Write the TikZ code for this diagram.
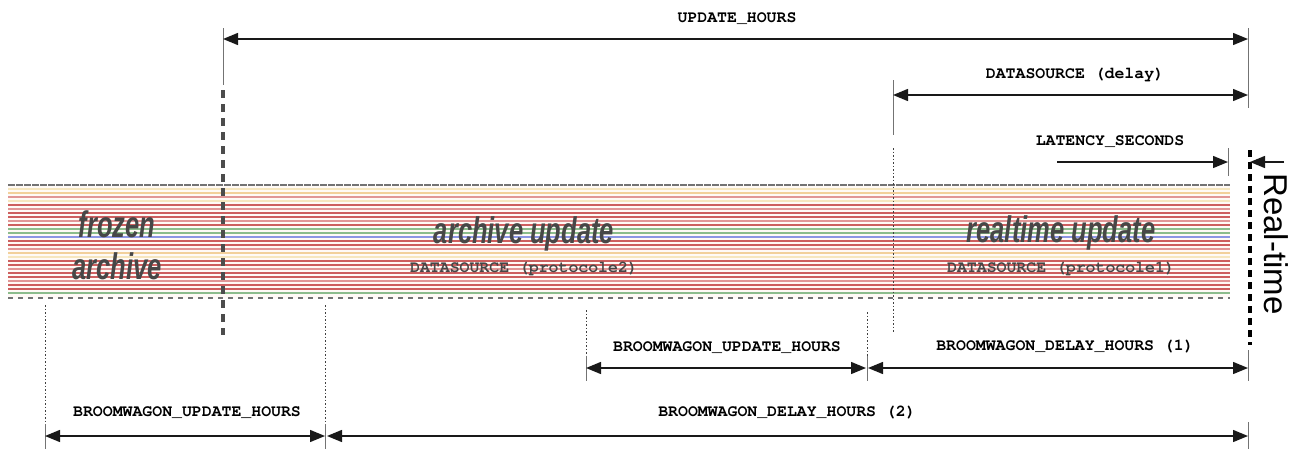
\documentclass[tikz,border=0pt]{standalone}
\usepackage[T1]{fontenc}
\usepackage{fontspec}
\setmainfont{Liberation Sans}
\newcommand\courb{\fontencoding{T1}\fontfamily{pcr}\fontseries{b}\fontshape{n}\selectfont}
\usetikzlibrary{arrows.meta}
\definecolor{sred}{RGB}{205,95,95}
\definecolor{sred2}{RGB}{225,150,150}
\definecolor{sorange}{RGB}{242,208,155}
\definecolor{syellow}{RGB}{246,230,190}
\definecolor{sgreen}{RGB}{140,188,140}
\definecolor{sblue}{RGB}{140,150,228}
\definecolor{bandbg}{RGB}{255,250,246}
\begin{document}
\begin{tikzpicture}[x=1pt,y=-1pt,
  dim/.style={line width=1.4pt, draw=black!90, {Triangle[length=15pt,width=12pt]}-{Triangle[length=15pt,width=12pt]}},
  onearrow/.style={line width=1.4pt, draw=black!90, -{Triangle[length=15pt,width=12pt]}},
  tickl/.style={draw=black!55, line width=0.7pt},
  dotv/.style={draw=black!75, line width=0.8pt, dash pattern=on 1.5pt off 2pt},
  rtline/.style={draw=black, line width=3.4pt, dash pattern=on 7pt off 5pt},
  arline/.style={draw=black!70, line width=3.2pt, dash pattern=on 8pt off 6pt},
  lbl/.style={font=\courb\fontsize{16.5}{16.5}\selectfont, text=black, inner sep=0pt, anchor=base},
  sub/.style={font=\courb\fontsize{16.5}{16.5}\selectfont, text=black!72, inner sep=0pt, anchor=base},
  big/.style={font=\bfseries\itshape\fontsize{37}{37}\selectfont, text=black!72, xscale=0.69, inner sep=0pt, anchor=base},
  stripe/.style={line width=1.2pt}]
\useasboundingbox (0,0) rectangle (1296,450);
% ---- band ----
\fill[bandbg] (8,185) rectangle (1230,298);
\foreach \yy/\cc in {189/syellow,193/sorange,197/sred2,201/syellow,205/sred,209/sred2,213/sred,217/sred,221/sred2,225/sred,229/sgreen,233/sgreen,237/sblue,241/sred,245/sred,249/sred2,253/sorange,257/syellow,261/sred,265/sred,269/sred2,273/sred,277/sred,281/sred2,285/sred,289/sred,293/sgreen}
  \draw[stripe,draw=\cc] (8,\yy) -- (1230,\yy);
\draw[draw=black!55, line width=1.8pt, dash pattern=on 7pt off 1pt] (8,185) -- (1230,185);
\draw[draw=black!55, line width=2.4pt, dash pattern=on 5pt off 5pt] (8,298) -- (1230,298);
% ---- band texts ----
\node[big] (fz) at (117,237) {frozen};
\node[big] (fa) at (117,279) {archive};
\node[big] (au) at (524,243) {archive update};
\node[sub] (ds2) at (524,272) {DATASOURCE (protocole2)};
\node[big] (ru) at (1061,242) {realtime update};
\node[sub] (ds1) at (1061,272) {DATASOURCE (protocole1)};
% ---- coordinates ----
\coordinate (u1) at (223,39);  \coordinate (u2) at (1248,39);
\coordinate (d1) at (893,95);  \coordinate (d2) at (1248,95);
\coordinate (l1) at (1057,162); \coordinate (l2) at (1228,162);
\coordinate (r1) at (1284,162); \coordinate (r2) at (1250,162);
\coordinate (bu1) at (586,368); \coordinate (bu2) at (866,368);
\coordinate (bd1) at (868,368); \coordinate (bd2) at (1248,368);
\coordinate (cu1) at (45,436);  \coordinate (cu2) at (325,436);
\coordinate (cd1) at (327,436); \coordinate (cd2) at (1248,436);
% ---- vertical guides ----
\draw[tickl] (223,28) -- (223,85);
\draw[arline] (223,90) -- (223,335);
\draw[tickl] (1248,28) -- (1248,108);
\draw[tickl] (893,80) -- (893,135);
\draw[dotv] (893,148) -- (893,332);
\draw[tickl] (1228,148) -- (1228,176);
\draw[rtline] (1250,150) -- (1250,345);
\draw[dotv] (45,305) -- (45,424);   \draw[tickl] (45,424) -- (45,449);
\draw[dotv] (325,305) -- (325,424); \draw[tickl] (325,424) -- (325,449);
\draw[dotv] (586,310) -- (586,356); \draw[tickl] (586,356) -- (586,381);
\draw[dotv] (867,312) -- (867,356); \draw[tickl] (867,356) -- (867,381);
\draw[tickl] (1248,350) -- (1248,381);
\draw[tickl] (1248,422) -- (1248,449);
% ---- dimension arrows ----
\draw[dim] (u1) -- (u2);
\draw[dim] (d1) -- (d2);
\draw[onearrow] (l1) -- (l2);
\draw[onearrow] (r1) -- (r2);
\draw[dim] (bu1) -- (bu2);
\draw[dim] (bd1) -- (bd2);
\draw[dim] (cu1) -- (cu2);
\draw[dim] (cd1) -- (cd2);
% ---- labels ----
\node[lbl] (t1) at (737,22) {UPDATE\_HOURS};
\node[lbl] (t2) at (1075,78) {DATASOURCE (delay)};
\node[lbl] (t3) at (1110,145) {LATENCY\_SECONDS};
\node[lbl] (t4) at (727,351) {BROOMWAGON\_UPDATE\_HOURS};
\node[lbl] (t5) at (1065,350) {BROOMWAGON\_DELAY\_HOURS (1)};
\node[lbl] (t6) at (187,416) {BROOMWAGON\_UPDATE\_HOURS};
\node[lbl] (t7) at (787,416) {BROOMWAGON\_DELAY\_HOURS (2)};
\node[font=\fontsize{33}{33}\selectfont, rotate=-90, inner sep=0pt] (rt) at (1276,244) {Real-time};
\end{tikzpicture}
\end{document}
